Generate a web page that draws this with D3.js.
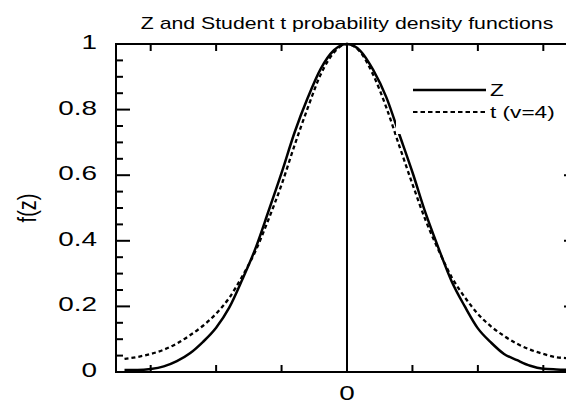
<!DOCTYPE html>
<html>
<head>
<meta charset="utf-8">
<script src="https://cdn.jsdelivr.net/npm/d3@7"></script>
<style>
  html, body { margin: 0; padding: 0; background: #fff; overflow: hidden; }
  svg { display: block; }
  text { font-family: "Liberation Sans", Arial, Helvetica, sans-serif; fill: #000; }
</style>
</head>
<body>
<div id="chart"></div>
<script>
// データ
const zPoints = [-3.4, -3.2, -3.0, -2.8, -2.6, -2.4, -2.2, -2.0, -1.8, -1.6, -1.4, -1.2, -1.0, -0.8, -0.6, -0.4, -0.2,
                 0, 0.2, 0.4, 0.6, 0.8, 1.0, 1.2, 1.4, 1.6, 1.8, 2.0, 2.2, 2.4, 2.6, 2.8, 3.0, 3.2, 3.4];
const normalValues = [0.006, 0.006, 0.009, 0.017, 0.033, 0.057, 0.092, 0.135, 0.196, 0.282, 0.376, 0.490, 0.607, 0.731, 0.836, 0.925, 0.981,
                      1.0, 0.980, 0.921, 0.838, 0.724, 0.609, 0.485, 0.377, 0.276, 0.200, 0.133, 0.090, 0.055, 0.036, 0.019, 0.010, 0.008, 0.007];
const tValues = [0.040, 0.046, 0.055, 0.068, 0.087, 0.112, 0.141, 0.178, 0.226, 0.292, 0.368, 0.465, 0.571, 0.692, 0.805, 0.908, 0.974,
                 1.0, 0.976, 0.906, 0.807, 0.689, 0.573, 0.463, 0.371, 0.289, 0.228, 0.177, 0.139, 0.110, 0.086, 0.068, 0.055, 0.045, 0.042];
const xTicks = [-3, -2, -1, 0, 1, 2, 3];
const yTicks = [0, 0.2, 0.4, 0.6, 0.8, 1];
const yTickLabels = ['0', '0.2', '0.4', '0.6', '0.8', '1'];
const yMinorTicks = d3.range(0, 1.0001, 0.05);
const seriesNames = ['Z', 't (v=4)'];

const width = 566, height = 404;
const margin = { top: 44, right: -12, bottom: 32, left: 116 };
const stretch = 1.33; // 元画像は横方向に伸びている

const svg = d3.select('#chart')
    .append('svg')
    .attr('width', width)
    .attr('height', height);

const x = d3.scaleLinear().domain([-3.53, 3.53]).range([margin.left, width - margin.right]);
const y = d3.scaleLinear().domain([0, 1]).range([height - margin.bottom, margin.top]);

// 横に伸ばしたテキスト
function label(txt, px, py, size, anchor, rotate) {
    return svg.append('text')
        .attr('transform', `translate(${px},${py}) scale(${stretch},1)` + (rotate ? ' rotate(-90)' : ''))
        .attr('text-anchor', anchor)
        .attr('font-size', size + 'px')
        .text(txt);
}

// 枠
svg.append('rect')
    .attr('x', x.range()[0]).attr('y', y.range()[1])
    .attr('width', x.range()[1] - x.range()[0])
    .attr('height', y.range()[0] - y.range()[1])
    .attr('fill', 'none').attr('stroke', '#000').attr('stroke-width', 2);

const ticks = svg.append('g').attr('stroke', '#000').attr('stroke-width', 2);

// x の目盛（上下、内向き）
xTicks.forEach(v => {
    ticks.append('line').attr('x1', x(v)).attr('x2', x(v)).attr('y1', y(0)).attr('y2', y(0) - 7);
    ticks.append('line').attr('x1', x(v)).attr('x2', x(v)).attr('y1', y(1)).attr('y2', y(1) + 7);
});

// y の目盛（左右、内向き）
yMinorTicks.forEach(v => {
    const major = yTicks.some(t => Math.abs(t - v) < 1e-6);
    const len = major ? 14 : 7;
    ticks.append('line').attr('x1', x.range()[0]).attr('x2', x.range()[0] + len).attr('y1', y(v)).attr('y2', y(v));
    ticks.append('line').attr('x1', x.range()[1]).attr('x2', x.range()[1] - len).attr('y1', y(v)).attr('y2', y(v));
});

// 0 の縦線
svg.append('line')
    .attr('x1', x(0)).attr('x2', x(0))
    .attr('y1', y(0)).attr('y2', y(1))
    .attr('stroke', '#000').attr('stroke-width', 2);

// 目盛ラベル
yTicks.forEach((v, i) => label(yTickLabels[i], 97, y(v) + 5, 21, 'end'));
label('0', x(0), 400, 21, 'middle');

// 軸ラベルとタイトル
label('f(z)', 36, y(0.5), 20, 'middle', true);
label('Z and Student t probability density functions', x(0), 29, 16, 'middle');

// 曲線
const line = d3.line()
    .x(d => x(d[0]))
    .y(d => y(d[1]))
    .curve(d3.curveMonotoneX);

svg.append('path')
    .datum(zPoints.map((z, i) => [z, tValues[i]]))
    .attr('d', line)
    .attr('fill', 'none')
    .attr('stroke', '#000')
    .attr('stroke-width', 2.3)
    .attr('stroke-dasharray', '4,3');

svg.append('path')
    .datum(zPoints.map((z, i) => [z, normalValues[i]]))
    .attr('d', line)
    .attr('fill', 'none')
    .attr('stroke', '#000')
    .attr('stroke-width', 2.5);

// 凡例（白い背景で曲線の一部が隠れる）
const legend = svg.append('g');
legend.append('rect')
    .attr('x', 396).attr('y', 62)
    .attr('width', 200).attr('height', 72)
    .attr('fill', '#fff');
[0, 1].forEach(i => {
    const ly = 90 + i * 22;
    legend.append('line')
        .attr('x1', 413).attr('x2', 486)
        .attr('y1', ly).attr('y2', ly)
        .attr('stroke', '#000')
        .attr('stroke-width', i === 0 ? 2.5 : 2)
        .attr('stroke-dasharray', i === 0 ? null : '4.5,3');
    label(seriesNames[i], 490, ly + 6, 17, 'start');
});
</script>
</body>
</html>
